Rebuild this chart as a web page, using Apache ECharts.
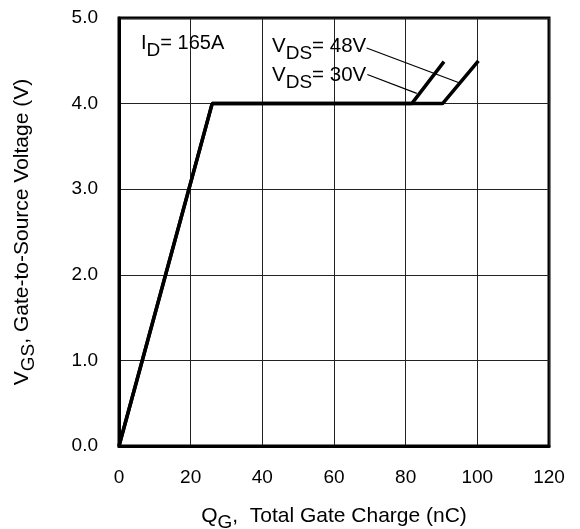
<!DOCTYPE html>
<html>
<head>
<meta charset="utf-8">
<script src="https://cdn.jsdelivr.net/npm/echarts@6/dist/echarts.min.js"></script>
<style>html,body{margin:0;padding:0;background:#fff;}#c{width:580px;height:529px;}</style>
</head>
<body>
<div id="c"></div>
<script>
var xTicks = [0, 20, 40, 60, 80, 100, 120];
var yTicks = [0, 1, 2, 3, 4, 5];
var vds30 = [[0, 0], [26, 4], [81.7, 4], [90.7, 4.49]];
var vds48 = [[0, 0], [26, 4], [90.3, 4], [100.3, 4.5]];
var leader48 = [[69.1, 4.65], [95.1, 4.24]];
var leader30 = [[69.3, 4.34], [83.1, 4.12]];

var FONT = 'Liberation Sans, Arial, Helvetica, sans-serif';
var chart = echarts.init(document.getElementById('c'), null, {renderer: 'canvas'});
function rich(size, subSize, drop) {
  return {
    m: {fontSize: size, fontFamily: FONT, color: '#000', lineHeight: 24, verticalAlign: 'top'},
    s: {fontSize: subSize, fontFamily: FONT, color: '#000', lineHeight: 24, verticalAlign: 'top', padding: [drop, 0, 0, 0]}
  };
}
chart.setOption({
  animation: false,
  backgroundColor: '#fff',
  grid: {left: 119, right: 31, top: 18, bottom: 83, show: true, borderColor: '#000', borderWidth: 3,
         containLabel: false, outerBoundsMode: 'none'},
  xAxis: {
    type: 'value', min: xTicks[0], max: xTicks[xTicks.length - 1], interval: 20,
    axisLine: {show: true, lineStyle: {color: '#000', width: 3}},
    axisTick: {show: false},
    splitLine: {show: true, lineStyle: {color: '#222', width: 1}},
    axisLabel: {margin: 22, fontSize: 19, color: '#000', fontFamily: FONT},
    name: '{m|Q}{s|G}{m|,  Total Gate Charge (nC)}',
    nameLocation: 'middle', nameGap: 60,
    nameTextStyle: {rich: rich(21, 19, 7)}
  },
  yAxis: {
    type: 'value', min: yTicks[0], max: yTicks[yTicks.length - 1], interval: 1,
    axisLine: {show: true, lineStyle: {color: '#000', width: 3}},
    axisTick: {show: false},
    splitLine: {show: true, lineStyle: {color: '#222', width: 1}},
    axisLabel: {margin: 21, fontSize: 19, color: '#000', fontFamily: FONT, formatter: function (v) { return v.toFixed(1); }},
    name: '{m|V}{s|GS}{m|, Gate-to-Source Voltage (V)}',
    nameLocation: 'middle', nameGap: 83, nameRotate: 90,
    nameTextStyle: {rich: rich(21, 19, 7)}
  },
  series: [
    {type: 'line', name: 'VDS=30V', data: vds30, symbol: 'none', lineStyle: {color: '#000', width: 3.5}, z: 5},
    {type: 'line', name: 'VDS=48V', data: vds48, symbol: 'none', lineStyle: {color: '#000', width: 3.5}, z: 5},
    {type: 'line', data: leader48, symbol: 'none', lineStyle: {color: '#000', width: 1.2}, z: 4},
    {type: 'line', data: leader30, symbol: 'none', lineStyle: {color: '#000', width: 1.2}, z: 4}
  ],
  graphic: [
    {type: 'text', left: 141, top: 33, z: 10, style: {rich: rich(20, 19, 8), text: '{m|I}{s|D}{m|= 165A}'}},
    {type: 'text', left: 272, top: 36, z: 10, style: {rich: rich(20.5, 19, 8), text: '{m|V}{s|DS}{m|= 48V}'}},
    {type: 'text', left: 272, top: 65, z: 10, style: {rich: rich(20.5, 19, 8), text: '{m|V}{s|DS}{m|= 30V}'}}
  ]
});
</script>
</body>
</html>
